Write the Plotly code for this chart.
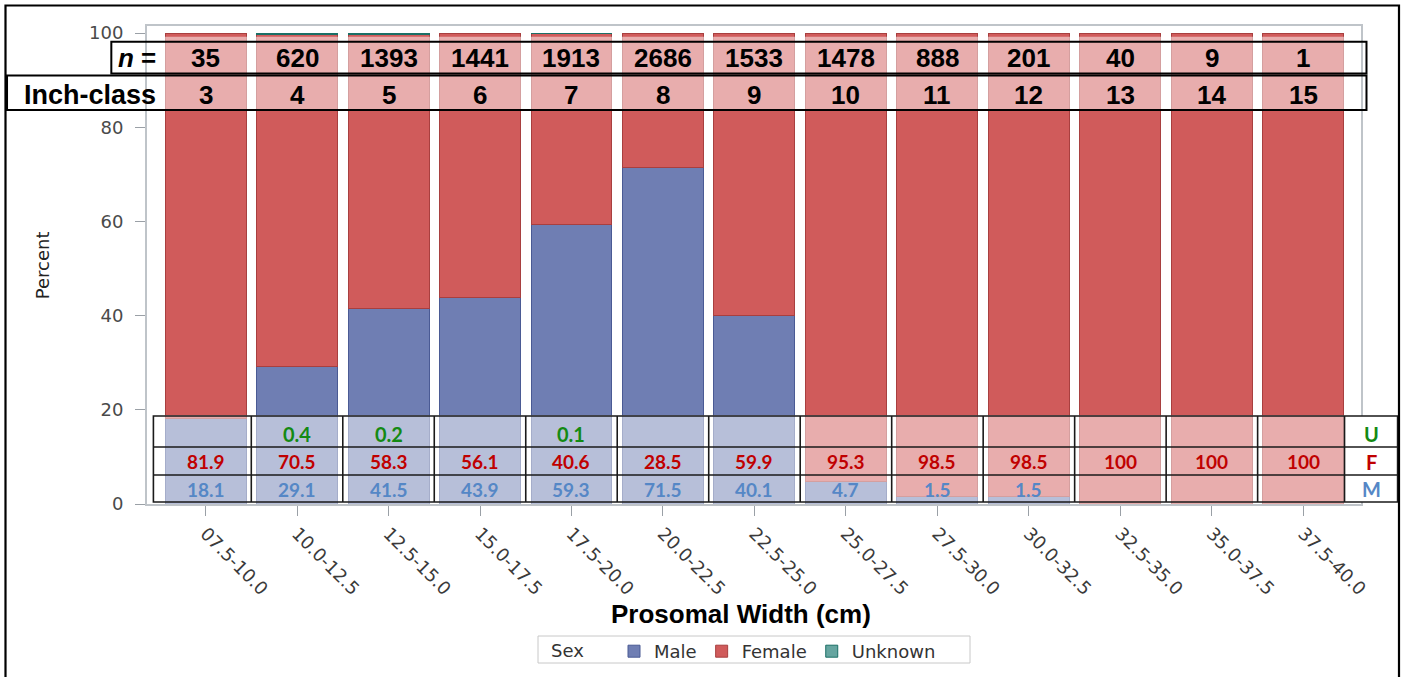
import plotly.graph_objects as go

# ---------------- data ----------------
classes = ["07.5-10.0", "10.0-12.5", "12.5-15.0", "15.0-17.5", "17.5-20.0",
           "20.0-22.5", "22.5-25.0", "25.0-27.5", "27.5-30.0", "30.0-32.5",
           "32.5-35.0", "35.0-37.5", "37.5-40.0"]
n_counts = [35, 620, 1393, 1441, 1913, 2686, 1533, 1478, 888, 201, 40, 9, 1]
inch_class = [3, 4, 5, 6, 7, 8, 9, 10, 11, 12, 13, 14, 15]
male = [18.1, 29.1, 41.5, 43.9, 59.3, 71.5, 40.1, 4.7, 1.5, 1.5, 0, 0, 0]
female = [81.9, 70.5, 58.3, 56.1, 40.6, 28.5, 59.9, 95.3, 98.5, 98.5, 100, 100, 100]
unknown = [0, 0.4, 0.2, 0, 0.1, 0, 0, 0, 0, 0, 0, 0, 0]
y_ticks = [0, 20, 40, 60, 80, 100]

# ---------------- geometry / style ----------------
X0, X1 = -0.64, 12.63
Y0, Y1 = 0, 101.5
W, H = 1408, 677
ML, MR, MT, MB = 147, 47, 26, 173
PW, PH = W - ML - MR, H - MT - MB

def xp(v):
    return (v - X0) / (X1 - X0)

def yp(v):
    return (v - Y0) / (Y1 - Y0)

def pxx(px):
    return (px - ML) / PW

def pxy(py):
    return (H - MB - py) / PH

TICK_FONT = "DejaVu Sans"
HEAD_FONT = "Liberation Sans, Arial, sans-serif"
CELL_FONT = "Lato, Carlito, sans-serif"

C_MALE, C_FEMALE, C_UNK = "#6F7EB3", "#D05B5B", "#66A5A0"
L_MALE, L_FEMALE, L_UNK = "#4A5A94", "#A83F3F", "#1B6F66"
T_U, T_F, T_M = "#138A13", "#C00000", "#5587C6"

xs = list(range(len(classes)))

fig = go.Figure()
fig.add_bar(x=xs, y=male, name="Male", marker=dict(color=C_MALE, line=dict(color=L_MALE, width=1)))
fig.add_bar(x=xs, y=female, name="Female", marker=dict(color=C_FEMALE, line=dict(color=L_FEMALE, width=1)))
fig.add_bar(x=xs, y=[u if u > 0 else None for u in unknown], name="Unknown",
            marker=dict(color=C_UNK, line=dict(color=L_UNK, width=1)))

shapes = []
annotations = []

def txt(x, y, text, family, size, color, xanchor="center"):
    annotations.append(dict(xref="paper", yref="paper", x=x, y=y, xanchor=xanchor,
                            yanchor="middle", text=text, showarrow=False,
                            font=dict(family=family, size=size, color=color)))

# translucent overlays (pasted table look)
shapes.append(dict(type="rect", xref="paper", yref="paper", x0=xp(-0.6), x1=xp(12.6),
                   y0=yp(83.6), y1=yp(99.2), fillcolor="rgba(255,255,255,0.5)",
                   line=dict(width=0), layer="above"))
shapes.append(dict(type="rect", xref="paper", yref="paper", x0=xp(-0.6), x1=xp(12.6),
                   y0=yp(0), y1=yp(18.9), fillcolor="rgba(255,255,255,0.5)",
                   line=dict(width=0), layer="above"))

# top table boxes
shapes.append(dict(type="rect", xref="paper", yref="paper", x0=xp(-1.03), x1=xp(12.69),
                   y0=yp(91.4), y1=yp(98.15), line=dict(color="black", width=2), layer="above"))
shapes.append(dict(type="rect", xref="paper", yref="paper", x0=xp(-2.17), x1=xp(12.69),
                   y0=yp(83.65), y1=yp(91.0), line=dict(color="black", width=2), layer="above"))

# bottom table grid
bt_left, bt_lab, bt_right = -0.57, 12.45, 13.03
row_edges = [18.68, 12.1, 6.16, 0.42]
shapes.append(dict(type="rect", xref="paper", yref="paper", x0=xp(bt_lab), x1=xp(bt_right),
                   y0=yp(row_edges[3]), y1=yp(row_edges[0]), fillcolor="white",
                   line=dict(width=0), layer="above"))
shapes.append(dict(type="rect", xref="paper", yref="paper", x0=xp(bt_left), x1=xp(bt_right),
                   y0=yp(row_edges[3]), y1=yp(row_edges[0]), line=dict(color="#1a1a1a", width=1.6),
                   layer="above"))
for ry in row_edges[1:3]:
    shapes.append(dict(type="line", xref="paper", yref="paper", x0=xp(bt_left), x1=xp(bt_right),
                       y0=yp(ry), y1=yp(ry), line=dict(color="#1a1a1a", width=1.4), layer="above"))
for i in range(len(classes) - 1):
    shapes.append(dict(type="line", xref="paper", yref="paper", x0=xp(i + 0.5), x1=xp(i + 0.5),
                       y0=yp(row_edges[3]), y1=yp(row_edges[0]),
                       line=dict(color="#1a1a1a", width=1.6), layer="above"))
shapes.append(dict(type="line", xref="paper", yref="paper", x0=xp(bt_lab), x1=xp(bt_lab),
                   y0=yp(row_edges[3]), y1=yp(row_edges[0]),
                   line=dict(color="#1a1a1a", width=1.6), layer="above"))

# outer picture frame
shapes.append(dict(type="rect", xref="paper", yref="paper",
                   x0=pxx(5.5), x1=pxx(1399), y0=pxy(H + 4), y1=pxy(5.5),
                   line=dict(color="black", width=2.2), layer="above"))

# legend box
shapes.append(dict(type="rect", xref="paper", yref="paper",
                   x0=pxx(538), x1=pxx(970), y0=pxy(663), y1=pxy(636),
                   line=dict(color="#C8C8C8", width=1), fillcolor="white", layer="below"))
txt(pxx(567), pxy(650), "Sex", TICK_FONT, 18, "#333")

# top table text
y_n, y_inch = 94.6, 86.85
txt(xp(-0.52), yp(y_n), "<b><i>n</i> =</b>", HEAD_FONT, 26, "black", xanchor="right")
txt(xp(-0.52), yp(y_inch), "<b>Inch-class</b>", HEAD_FONT, 27, "black", xanchor="right")
for i, (n, ic) in enumerate(zip(n_counts, inch_class)):
    txt(xp(i), yp(y_n), f"<b>{n}</b>", HEAD_FONT, 26, "black")
    txt(xp(i), yp(y_inch), f"<b>{ic}</b>", HEAD_FONT, 26, "black")

# bottom table text
y_u, y_f, y_m = 14.97, 9.02, 3.08
def fmt(v):
    return f"{v:g}"
for i in xs:
    if unknown[i] > 0:
        txt(xp(i), yp(y_u), f"<b>{fmt(unknown[i])}</b>", CELL_FONT, 20, T_U)
    if female[i] > 0:
        txt(xp(i), yp(y_f), f"<b>{fmt(female[i])}</b>", CELL_FONT, 19, T_F)
    if male[i] > 0:
        txt(xp(i), yp(y_m), f"<b>{fmt(male[i])}</b>", CELL_FONT, 19, T_M)
lab_x = xp((bt_lab + bt_right) / 2)
for lab, yy, col in [("U", y_u, T_U), ("F", y_f, T_F), ("M", y_m, T_M)]:
    txt(lab_x, yp(yy), f"<b>{lab}</b>", CELL_FONT, 20, col)

# axis titles
txt(pxx(741), pxy(614), "<b>Prosomal Width (cm)</b>", HEAD_FONT, 26, "black")
annotations.append(dict(xref="paper", yref="paper", x=pxx(42), y=yp(50.7), xanchor="center",
                        yanchor="middle", text="Percent", textangle=-90, showarrow=False,
                        font=dict(family=TICK_FONT, size=18, color="#222")))

fig.update_layout(
    width=W, height=H,
    margin=dict(l=ML, r=MR, t=MT, b=MB, pad=0),
    paper_bgcolor="white", plot_bgcolor="white",
    barmode="stack", bargap=0.115,
    shapes=shapes, annotations=annotations,
    showlegend=True,
    legend=dict(orientation="h", xref="container", yref="container",
                x=614 / W, xanchor="left", y=1 - 633 / H, yanchor="top",
                font=dict(family=TICK_FONT, size=18, color="#333"),
                borderwidth=0, bgcolor="rgba(0,0,0,0)", traceorder="normal"),
    xaxis=dict(range=[X0, X1], tickmode="array", tickvals=xs, ticktext=classes, tickangle=45,
               ticks="outside", ticklen=10, tickcolor="#9AA0A6", showgrid=False, zeroline=False,
               showline=True, linecolor="#BFC4C9", linewidth=2, mirror=True, automargin=False,
               tickfont=dict(family=TICK_FONT, size=18, color="#3a3a3a")),
    yaxis=dict(range=[Y0, Y1], tickmode="array", tickvals=y_ticks, ticks="outside", ticklen=10,
               tickcolor="#9AA0A6", showgrid=False, zeroline=False, showline=True, automargin=False,
               linecolor="#BFC4C9", linewidth=2, mirror=True, ticklabelstandoff=8,
               tickfont=dict(family=TICK_FONT, size=18, color="#4a4a4a")),
)

fig.write_html("out.html", config={"displayModeBar": False},
               post_script="document.body.style.margin='0';")
